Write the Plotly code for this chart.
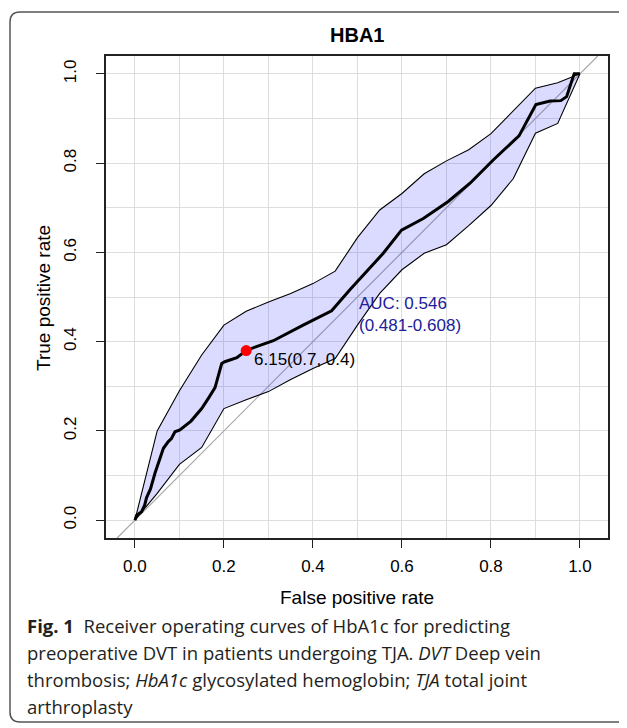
import plotly.graph_objects as go

# ---- data ----
roc_fpr = [0, 0.004, 0.015, 0.022, 0.026, 0.035, 0.045, 0.05, 0.056, 0.064, 0.075, 0.082, 0.09, 0.101,
           0.126, 0.15, 0.165, 0.18, 0.195, 0.202, 0.229, 0.25, 0.273, 0.311, 0.378, 0.442, 0.483,
           0.528, 0.558, 0.599, 0.648, 0.704, 0.753, 0.805, 0.863, 0.901, 0.933, 0.957, 0.97, 0.987, 1.0]
roc_tpr = [0, 0.011, 0.019, 0.034, 0.05, 0.07, 0.105, 0.12, 0.138, 0.161, 0.176, 0.183, 0.198, 0.202,
           0.222, 0.25, 0.273, 0.297, 0.351, 0.355, 0.364, 0.38, 0.389, 0.402, 0.437, 0.469, 0.516,
           0.564, 0.598, 0.65, 0.676, 0.714, 0.755, 0.807, 0.861, 0.931, 0.939, 0.94, 0.949, 1.0, 1.0]

ci_fpr = [0, 0.05, 0.1, 0.15, 0.2, 0.25, 0.3, 0.35, 0.4, 0.45, 0.5, 0.55, 0.6, 0.65, 0.7, 0.75,
          0.8, 0.85, 0.9, 0.95, 1.0]
ci_upper = [0, 0.2, 0.29, 0.37, 0.437, 0.468, 0.489, 0.508, 0.53, 0.558, 0.633, 0.695, 0.732,
            0.776, 0.805, 0.83, 0.866, 0.917, 0.968, 0.98, 1.0]
ci_lower = [0, 0.06, 0.125, 0.163, 0.25, 0.27, 0.288, 0.315, 0.34, 0.362, 0.437, 0.508, 0.561,
            0.598, 0.617, 0.66, 0.705, 0.765, 0.867, 0.889, 1.0]

best_fpr = [0.25]
best_tpr = [0.38]
best_label = "6.15(0.7, 0.4)"
auc_text = ["AUC: 0.546", "(0.481-0.608)"]

tick_vals = [0.0, 0.2, 0.4, 0.6, 0.8, 1.0]
tick_text = ["0.0", "0.2", "0.4", "0.6", "0.8", "1.0"]

title = "HBA1"
x_title = "False positive rate"
y_title = "True positive rate"
caption_lines = [
    "<b>Fig. 1</b>  Receiver operating curves of HbA1c for predicting",
    "preoperative DVT in patients undergoing TJA. <i>DVT</i> Deep vein",
    "thrombosis; <i>HbA1c</i> glycosylated hemoglobin; <i>TJA</i> total joint",
    "arthroplasty",
]

# ---- layout geometry (page coordinates; the page body adds an 8px offset) ----
OFF = 8
W, H = 627, 728
PLOT_L, PLOT_R, PLOT_T, PLOT_B = 106, 608, 56, 538  # page pixel box of the plot area
L = PLOT_L - OFF
T = PLOT_T - OFF
PW = PLOT_R - PLOT_L
PH = PLOT_B - PLOT_T
R = W - L - PW
B = H - T - PH


def px(x):
    return (x - PLOT_L) / PW


def py(y):
    return (PLOT_B - y) / PH


FONT = "Liberation Sans, Arial, sans-serif"

fig = go.Figure()

# diagonal reference
fig.add_trace(go.Scatter(x=[-0.04, 1.04], y=[-0.04, 1.04], mode="lines",
                         line=dict(color="#a8a8a8", width=1.2), hoverinfo="skip", showlegend=False))

# CI band
band_x = ci_fpr + ci_fpr[::-1]
band_y = ci_upper + ci_lower[::-1]
fig.add_trace(go.Scatter(x=band_x, y=band_y, mode="lines", fill="toself",
                         fillcolor="rgba(40,40,255,0.17)", line=dict(color="black", width=1.1),
                         hoverinfo="skip", showlegend=False))

# ROC curve
fig.add_trace(go.Scatter(x=roc_fpr, y=roc_tpr, mode="lines",
                         line=dict(color="black", width=3), showlegend=False))

# best threshold
fig.add_trace(go.Scatter(x=best_fpr, y=best_tpr, mode="markers",
                         marker=dict(color="red", size=11), showlegend=False))

annotations = []
annotations.append(dict(x=best_fpr[0] + 0.013, y=best_tpr[0] - 0.021, xref="x", yref="y",
                        text=best_label, showarrow=False, xanchor="left", yanchor="middle",
                        font=dict(family=FONT, size=17, color="black")))
annotations.append(dict(x=0.5, y=0.486, xref="x", yref="y", text=auc_text[0], showarrow=False,
                        xanchor="left", yanchor="middle",
                        font=dict(family=FONT, size=17, color="#20209a")))
annotations.append(dict(x=0.5, y=0.437, xref="x", yref="y", text=auc_text[1], showarrow=False,
                        xanchor="left", yanchor="middle",
                        font=dict(family=FONT, size=17, color="#20209a")))

# title and axis titles
annotations.append(dict(x=px(357), y=py(35), xref="paper", yref="paper", text="<b>" + title + "</b>",
                        showarrow=False, xanchor="center", yanchor="middle",
                        font=dict(family=FONT, size=20, color="black")))
annotations.append(dict(x=px(357), y=py(597), xref="paper", yref="paper", text=x_title,
                        showarrow=False, xanchor="center", yanchor="middle",
                        font=dict(family=FONT, size=19, color="black")))
annotations.append(dict(x=px(43), y=py(298), xref="paper", yref="paper", text=y_title,
                        showarrow=False, xanchor="center", yanchor="middle", textangle=-90,
                        font=dict(family=FONT, size=19, color="black")))

# caption
cap_y = [625, 652, 679, 706]
for line, yy in zip(caption_lines, cap_y):
    annotations.append(dict(x=px(25), y=py(yy), xref="paper", yref="paper", text=line,
                            showarrow=False, xanchor="left", yanchor="middle",
                            font=dict(family="Open Sans, sans-serif", size=18.5, color="#231f20")))

# outer rounded frame
x0, y0, x1, y1, r = 10, 12, 680, 722, 10
path = (f"M {px(x1)},{py(y0)} L {px(x0 + r)},{py(y0)} Q {px(x0)},{py(y0)} {px(x0)},{py(y0 + r)} "
        f"L {px(x0)},{py(y1 - r)} Q {px(x0)},{py(y1)} {px(x0 + r)},{py(y1)} L {px(x1)},{py(y1)}")
shapes = [dict(type="path", path=path, xref="paper", yref="paper",
               line=dict(color="#555555", width=1.5))]

axis_common = dict(
    tickmode="array", tickvals=tick_vals, ticktext=tick_text,
    ticks="outside", ticklen=8, tickwidth=1.2, tickcolor="#222",
    showline=True, mirror=True, linecolor="#222", linewidth=1.5,
    showgrid=True, gridcolor="#dedede", gridwidth=1.2,
    minor=dict(tickmode="linear", tick0=0, dtick=0.1, showgrid=True, gridcolor="#dedede",
               gridwidth=1.2, ticks=""),
    zeroline=False,
    tickfont=dict(family=FONT, size=17, color="black"),
)

fig.update_layout(
    width=W, height=H,
    margin=dict(l=L, r=R, t=T, b=B, autoexpand=False),
    paper_bgcolor="white", plot_bgcolor="white",
    showlegend=False,
    xaxis=dict(range=[-0.065, 1.063], ticklabelstandoff=4, **axis_common),
    yaxis=dict(range=[-0.04, 1.04], tickangle=-90, ticklabelstandoff=13, **axis_common),
    annotations=annotations,
    shapes=shapes,
)

fig.write_html("out.html")
